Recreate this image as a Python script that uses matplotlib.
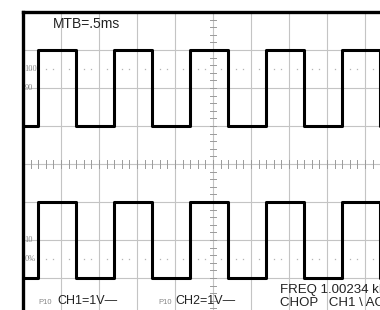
import numpy as np
import matplotlib.pyplot as plt

# time of each level change (ms) and the level (divisions) held after it
edge_times = [0.0, 0.2, 0.7, 1.2, 1.7, 2.2, 2.7, 3.2, 3.7, 4.2, 4.7, 5.0]
ch1_levels = [1, 3, 1, 3, 1, 3, 1, 3, 1, 3, 1, 1]
ch2_levels = [-3, -1, -3, -1, -3, -1, -3, -1, -3, -1, -3, -3]

# graticule marker labels (level in divisions, text)
marker_levels = [2.5, 2.0, -2.0, -2.5]
marker_texts = ['100', '90', '10', '0%']
dotted_levels = [2.5, -2.5]

W, H = 380, 310
fig = plt.figure(figsize=(W / 100, H / 100), dpi=100)
fig.patch.set_facecolor('white')

# 10 x 8 division screen, partly cut off on the right and bottom
ax = fig.add_axes([23 / W, -6 / H, 380 / W, 304 / H])
ax.set_xlim(0, 5)
ax.set_ylim(-4, 4)
ax.set_xticks([])
ax.set_yticks([])
for side in ['top', 'left']:
    ax.spines[side].set_linewidth(2.4)
    ax.spines[side].set_color('black')
    ax.spines[side].set_zorder(5)
for side in ['right', 'bottom']:
    ax.spines[side].set_visible(False)

grid_col = '#c4c4c4'
for t in np.arange(0.5, 5.0, 0.5):
    ax.axvline(t, color=grid_col, lw=0.8, zorder=1)
for v in np.arange(-3, 4, 1):
    ax.axhline(v, color=grid_col, lw=0.8, zorder=1)

# centre cross with small ticks
tick_col = '#9a9a9a'
for t in np.arange(0.1, 5.0, 0.1):
    ax.plot([t, t], [-0.1, 0.1], color=tick_col, lw=0.7, zorder=1)
for v in np.arange(-3.8, 4.0, 0.2):
    if abs(v) > 0.05:
        ax.plot([2.5 - 0.045, 2.5 + 0.045], [v, v], color=tick_col, lw=0.7, zorder=1)

# dotted 0% / 100% lines
dots = [t for t in np.arange(0.1, 5.0, 0.1) if abs(t / 0.5 - round(t / 0.5)) > 0.01]
for v in dotted_levels:
    ax.plot(dots, [v] * len(dots), ls='none', marker='s', ms=0.9, mew=0,
            color='#b4b4b4', zorder=1)

for v, s in zip(marker_levels, marker_texts):
    ax.text(0.02, v, s, fontsize=6, family='Liberation Serif', color='#888888',
            ha='left', va='center', zorder=2)

ax.plot(edge_times, ch1_levels, drawstyle='steps-post', color='black', lw=2.2, zorder=4)
ax.plot(edge_times, ch2_levels, drawstyle='steps-post', color='black', lw=2.2, zorder=4)

fam = ['Liberation Sans', 'DejaVu Sans']
txt_col = '#222222'
fig.text(53 / W, 1 - 28 / H, 'MTB=.5ms', fontsize=10, family=fam, color=txt_col, va='baseline')

fig.text(38 / W, 1 - 304 / H, 'P10', fontsize=5.5, family=fam, color='#888888', va='baseline')
fig.text(57 / W, 1 - 304 / H, 'CH1=1V\u2014', fontsize=9, family=fam, color=txt_col, va='baseline')
fig.text(158 / W, 1 - 304 / H, 'P10', fontsize=5.5, family=fam, color='#888888', va='baseline')
fig.text(175 / W, 1 - 304 / H, 'CH2=1V\u2014', fontsize=9, family=fam, color=txt_col, va='baseline')

fig.text(280 / W, 1 - 293 / H, 'FREQ 1.00234 kHz', fontsize=9.5, family=fam, color=txt_col, va='baseline')
fig.text(280 / W, 1 - 306 / H, 'CHOP   CH1 \\ AC', fontsize=9.5, family=fam, color=txt_col, va='baseline')

fig.savefig('out.png', dpi=100, facecolor='white')
